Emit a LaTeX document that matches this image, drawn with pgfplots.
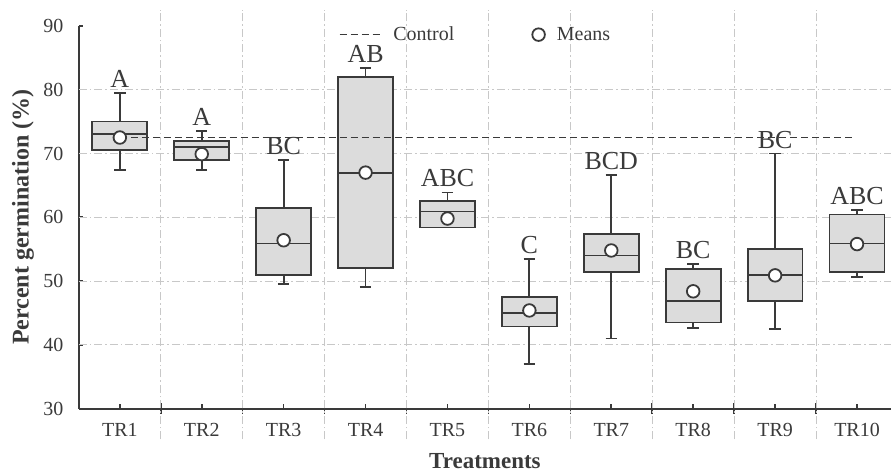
\documentclass[border=0pt]{standalone}
\usepackage{fontspec}
\setmainfont{Liberation Serif}
\usepackage{pgfplots}
\pgfplotsset{compat=1.18}
\usepgfplotslibrary{statistics}
\definecolor{dk}{HTML}{3A3A3A}
\definecolor{boxfill}{HTML}{DCDCDC}
\definecolor{gridc}{HTML}{C8C8C8}
\pgfplotsset{
  mybox/.style={draw=dk, fill=boxfill, line width=1.8pt, forget plot, solid,
    boxplot/draw direction=y,
    boxplot/box extend=0.67, boxplot/whisker extend=0.14},
  ctrlleg/.style={legend image code/.code={\draw[##1] (0pt,0pt) -- (41pt,0pt);}},
  meanleg/.style={legend image code/.code={\draw[##1] plot coordinates {(6.5pt,0pt)};}},
}
\begin{document}
\begin{tikzpicture}
\begin{axis}[
  scale only axis,
  width=813pt, height=383.3pt,
  xmin=0.5, xmax=10.415, ymin=30, ymax=90,
  clip=false,
  axis x line*=bottom, axis y line*=left,
  axis line style={dk, line width=2pt},
  xtick={1,...,10},
  xticklabels={TR1,TR2,TR3,TR4,TR5,TR6,TR7,TR8,TR9,TR10},
  ytick={30,40,...,90},
  extra y ticks={40,50,60,70,80},
  extra y tick labels={},
  extra y tick style={grid=major, major tick length=0pt},
  extra x ticks={1.5,2.5,...,9.5},
  extra x tick labels={},
  extra x tick style={tick align=center, major tick length=11pt},
  major grid style={gridc, line width=1pt, dash pattern=on 8pt off 3pt on 1.5pt off 3pt},
  tick align=inside,
  major tick length=4.5pt,
  tick style={dk, line width=1.6pt},
  /pgf/number format/assume math mode=true,
  tick label style={font=\fontsize{20}{24}\selectfont, text=dk},
  xticklabel style={yshift=-11pt},
  yticklabel style={xshift=-12pt},
  ylabel={Percent germination (\%)},
  xlabel={Treatments},
  ylabel style={at={(axis description cs:-0.0689,0.5)}, anchor=center, rotate=0,
    font=\bfseries\fontsize{24}{28}\selectfont, text=dk},
  xlabel style={at={(axis description cs:0.5,-0.137)}, anchor=center,
    font=\bfseries\fontsize{23}{27}\selectfont, text=dk},
  legend style={at={(axis description cs:0.316,0.977)}, anchor=west, draw=none, fill=none,
    font=\fontsize{20}{24}\selectfont, text=dk, legend columns=2,
    /tikz/every odd column/.append style={column sep=10pt},
    /tikz/every even column/.append style={column sep=76pt}},
]
% vertical separators
\pgfplotsinvokeforeach{1.5,2.5,3.5,4.5,5.5,6.5,7.5,8.5,9.5}{
  \draw[gridc, line width=1pt, dash pattern=on 8pt off 3pt on 1.5pt off 3pt] (axis cs:#1,25.2) -- (axis cs:#1,92.5);
}
% frame for bounding box
\path (axis cs:-0.463,20.5) rectangle (axis cs:10.415,94.05);

\addplot[mybox, boxplot prepared={draw position=1, lower whisker=67.4, lower quartile=70.5, median=73.0, upper quartile=75.0, upper whisker=79.5}] coordinates {};
\addplot[mybox, boxplot prepared={draw position=2, lower whisker=67.4, lower quartile=69.0, median=71.05, upper quartile=71.9, upper whisker=73.5}] coordinates {};
\addplot[mybox, boxplot prepared={draw position=3, lower whisker=49.6, lower quartile=50.9, median=55.9, upper quartile=61.5, upper whisker=69.0}] coordinates {};
\addplot[mybox, boxplot prepared={draw position=4, lower whisker=49.1, lower quartile=52.0, median=67.0, upper quartile=82.0, upper whisker=83.4}] coordinates {};
\addplot[mybox, boxplot prepared={draw position=5, lower whisker=58.4, lower quartile=58.4, median=60.9, upper quartile=62.5, upper whisker=63.9}] coordinates {};
\addplot[mybox, boxplot prepared={draw position=6, lower whisker=37.0, lower quartile=42.9, median=45.0, upper quartile=47.5, upper whisker=53.5}] coordinates {};
\addplot[mybox, boxplot prepared={draw position=7, lower whisker=41.0, lower quartile=51.4, median=54.0, upper quartile=57.4, upper whisker=66.6}] coordinates {};
\addplot[mybox, boxplot prepared={draw position=8, lower whisker=42.7, lower quartile=43.5, median=46.9, upper quartile=51.9, upper whisker=52.7}] coordinates {};
\addplot[mybox, boxplot prepared={draw position=9, lower whisker=42.5, lower quartile=46.9, median=51.0, upper quartile=55.0, upper whisker=70.0}] coordinates {};
\addplot[mybox, boxplot prepared={draw position=10, lower whisker=50.7, lower quartile=51.4, median=55.9, upper quartile=60.45, upper whisker=61.2}] coordinates {};

% control line
\addplot[dk, line width=1.7pt, dash pattern=on 7pt off 4pt, ctrlleg]
  coordinates {(1,72.5) (9.94,72.5)};
\addlegendentry{Control}

% means
\addplot[only marks, mark=*, mark size=6.3pt, mark options={fill=white, draw=dk, line width=1.8pt, solid}, meanleg]
  coordinates {(1,72.5) (2,69.9) (3,56.4) (4,67.0) (5,59.8) (6,45.4) (7,54.8) (8,48.4) (9,50.9) (10,55.8)};
\addlegendentry{Means}

% letters
\addplot[forget plot, only marks, mark=none, draw=none, nodes near coords, point meta=explicit symbolic,
  nodes near coords style={anchor=south, inner sep=0pt, yshift=5pt, font=\fontsize{26}{28}\selectfont, text=dk}]
  table[meta=lab] {
x y lab
1 79.5 A
2 73.5 A
3 69.0 BC
4 83.4 AB
5 63.9 ABC
6 53.5 C
7 66.6 BCD
8 52.7 BC
9 70.0 BC
10 61.2 ABC
};
\end{axis}
\end{tikzpicture}
\end{document}
